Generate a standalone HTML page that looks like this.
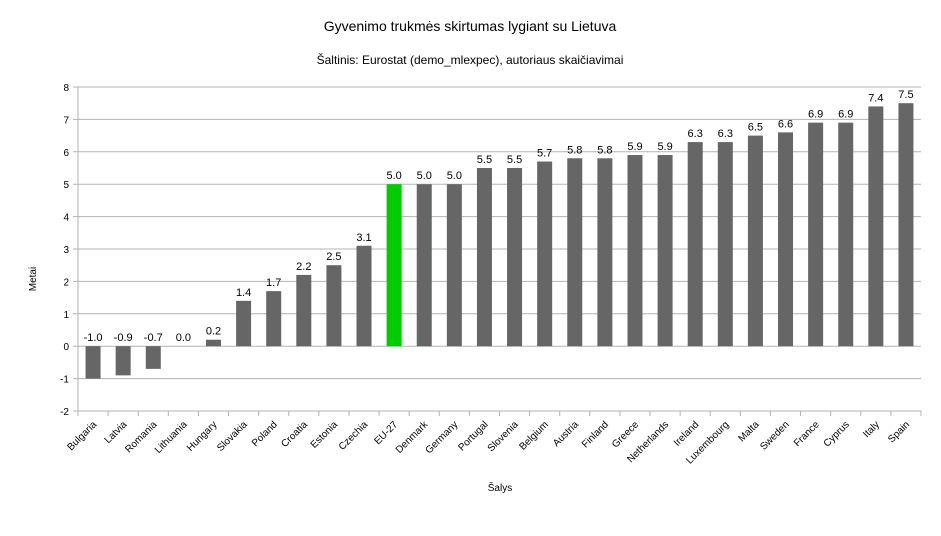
<!DOCTYPE html>
<html><head><meta charset="utf-8"><style>
body{margin:0;background:#fff;}
svg text{font-family:"Liberation Sans",sans-serif;}
</style></head><body>
<svg id="c" width="941" height="531">
<text x="470" y="31" text-anchor="middle" font-size="14">Gyvenimo trukmės skirtumas lygiant su Lietuva</text>
<text x="470" y="64" text-anchor="middle" font-size="12">Šaltinis: Eurostat (demo_mlexpec), autoriaus skaičiavimai</text>
<text x="36" y="279" text-anchor="middle" font-size="10" transform="rotate(-90 36 279)">Metai</text>
<text x="500" y="491" text-anchor="middle" font-size="10">Šalys</text>
<g id="grid"></g><g id="bars"></g><g id="labels"></g>
</svg>
<script>
const categories=["Bulgaria","Latvia","Romania","Lithuania","Hungary","Slovakia","Poland","Croatia","Estonia","Czechia","EU-27","Denmark","Germany","Portugal","Slovenia","Belgium","Austria","Finland","Greece","Netherlands","Ireland","Luxembourg","Malta","Sweden","France","Cyprus","Italy","Spain"];
const values=[-1.0,-0.9,-0.7,0.0,0.2,1.4,1.7,2.2,2.5,3.1,5.0,5.0,5.0,5.5,5.5,5.7,5.8,5.8,5.9,5.9,6.3,6.3,6.5,6.6,6.9,6.9,7.4,7.5];
const yTicks=[-2,-1,0,1,2,3,4,5,6,7,8];
const highlight="EU-27";
const L=78,R=921,T=87,B=411,yMin=-2,yMax=8;
const NS="http://www.w3.org/2000/svg";
const y=v=>B-(v-yMin)/(yMax-yMin)*(B-T);
const bw=(R-L)/categories.length;
const x=i=>L+i*bw;
function mk(t,a,p){const e=document.createElementNS(NS,t);for(const k in a)e.setAttribute(k,a[k]);p.appendChild(e);return e;}
const g=document.getElementById('grid'),b=document.getElementById('bars'),lb=document.getElementById('labels');
yTicks.forEach(t=>{
 const ln=mk('line',{x1:L-5,x2:R,y1:y(t),y2:y(t),stroke:'#b3b3b3','stroke-width':1},g);
 
 
 const tx=mk('text',{x:L-9,y:y(t)+4,'text-anchor':'end','font-size':10},g);tx.textContent=t;
 
 
});
mk('line',{x1:L,x2:L,y1:T,y2:B+5,stroke:'#b3b3b3'},g);
for(let i=0;i<=categories.length;i++){mk('line',{x1:x(i),x2:x(i),y1:B,y2:B+5,stroke:'#b3b3b3'},g);}
categories.forEach((c,i)=>{
 const v=values[i],cx=x(i)+bw/2;
 const r=mk('rect',{x:cx-7.5,width:15,y:Math.min(y(v),y(0)),height:Math.abs(y(v)-y(0)),fill:c===highlight?'#00cc00':'#666666'},b);
 
 
 const vt=mk('text',{x:cx,y:(v>=0?y(v):y(0))-5,'text-anchor':'middle','font-size':11},lb);vt.textContent=v.toFixed(1);
 
 
 const ct=mk('text',{x:cx+4,y:B+14,'text-anchor':'end','font-size':10,transform:`rotate(-45 ${cx+4} ${B+14})`},lb);ct.textContent=c;
 
 
});
</script>
</body></html>
